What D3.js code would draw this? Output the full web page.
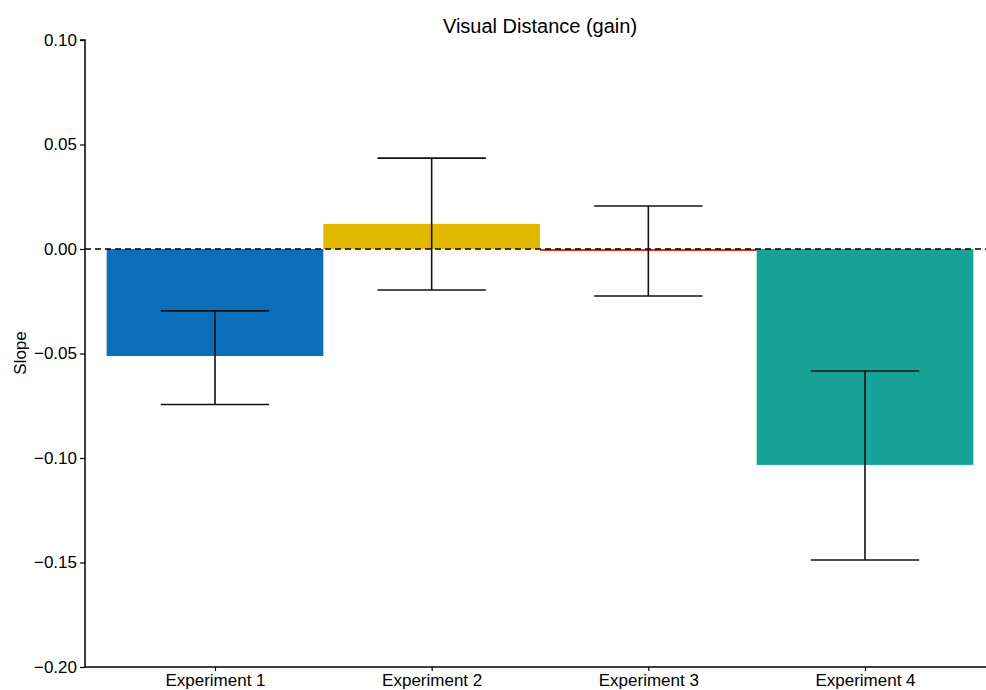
<!DOCTYPE html>
<html>
<head>
<meta charset="utf-8">
<script src="https://cdn.jsdelivr.net/npm/d3@7"></script>
<style>
  body { margin: 0; background: #fff; }
  text { font-family: "Liberation Sans", Arial, sans-serif; fill: #000; }
</style>
</head>
<body>
<div id="chart"></div>
<script>
// Data
// ==============================
var experiments = ["Experiment 1", "Experiment 2", "Experiment 3", "Experiment 4"];
var slopes = [-0.0512, 0.0120, -0.0010, -0.1033];
var errLow = [-0.0744, -0.0196, -0.0225, -0.1488];
var errHigh = [-0.0296, 0.0435, 0.0206, -0.0584];
var barColors = ["#0a6fb8", "#e3b800", "#e8321e", "#17a397"];
var yTicks = [0.10, 0.05, 0.00, -0.05, -0.10, -0.15, -0.20];

var svgWidth = 986;
var svgHeight = 690;

var svg = d3.select("#chart")
  .append("svg")
  .attr("width", svgWidth)
  .attr("height", svgHeight);

// Scales
// ==============================
var xScale = d3.scaleLinear()
  .domain([-0.6, experiments.length - 0.4])
  .range([85, 995]);

var yScale = d3.scaleLinear()
  .domain([-0.20, 0.10])
  .range([667, 40]);

var barW = xScale(0.5) - xScale(0);

// Bars
// ==============================
svg.selectAll("rect.bar")
  .data(slopes)
  .enter()
  .append("rect")
  .attr("class", "bar")
  .attr("x", (d, i) => xScale(i) - barW)
  .attr("width", barW * 2)
  .attr("y", d => yScale(Math.max(0, d)))
  .attr("height", d => Math.abs(yScale(d) - yScale(0)))
  .attr("fill", (d, i) => barColors[i]);

// Zero line
svg.append("line")
  .attr("x1", 85)
  .attr("x2", svgWidth)
  .attr("y1", yScale(0))
  .attr("y2", yScale(0))
  .attr("stroke", "#000")
  .attr("stroke-width", 1.5)
  .attr("stroke-dasharray", "6,4");

// Error bars
// ==============================
var capW = barW / 2;
var errGroup = svg.append("g")
  .attr("stroke", "#111")
  .attr("stroke-width", 1.6);

experiments.forEach(function(e, i) {
  var cx = xScale(i);
  errGroup.append("line")
    .attr("x1", cx).attr("x2", cx)
    .attr("y1", yScale(errLow[i])).attr("y2", yScale(errHigh[i]));
  [errLow[i], errHigh[i]].forEach(function(v) {
    errGroup.append("line")
      .attr("x1", cx - capW).attr("x2", cx + capW)
      .attr("y1", yScale(v)).attr("y2", yScale(v));
  });
});

// Axes
// ==============================
var leftAxis = d3.axisLeft(yScale)
  .tickValues(yTicks)
  .tickSize(5)
  .tickPadding(3)
  .tickFormat(d => d3.format(".2f")(d).replace("-", "\u2212"));

var yAxisG = svg.append("g")
  .attr("transform", "translate(85,0)")
  .call(leftAxis);
yAxisG.select(".domain").attr("stroke-width", 1.5).attr("d", "M-5,40H0V667");
yAxisG.selectAll("line").attr("stroke-width", 1.2);
yAxisG.selectAll("text").style("font-size", "17px");

var bottomAxis = d3.axisBottom(xScale)
  .tickValues(d3.range(experiments.length))
  .tickSize(4)
  .tickPadding(3)
  .tickFormat((d, i) => experiments[i]);

var xAxisG = svg.append("g")
  .attr("transform", "translate(0,667)")
  .call(bottomAxis);
xAxisG.select(".domain").attr("stroke-width", 1.5).attr("d", "M85,0H995");
xAxisG.selectAll("line").attr("stroke-width", 1.2);
xAxisG.selectAll("text").style("font-size", "17px");

// Labels
// ==============================
svg.append("text")
  .attr("x", 540)
  .attr("y", 33)
  .attr("text-anchor", "middle")
  .style("font-size", "20px")
  .text("Visual Distance (gain)");

svg.append("text")
  .attr("transform", "translate(26,353) rotate(-90)")
  .attr("text-anchor", "middle")
  .style("font-size", "17px")
  .text("Slope");
</script>
</body>
</html>
